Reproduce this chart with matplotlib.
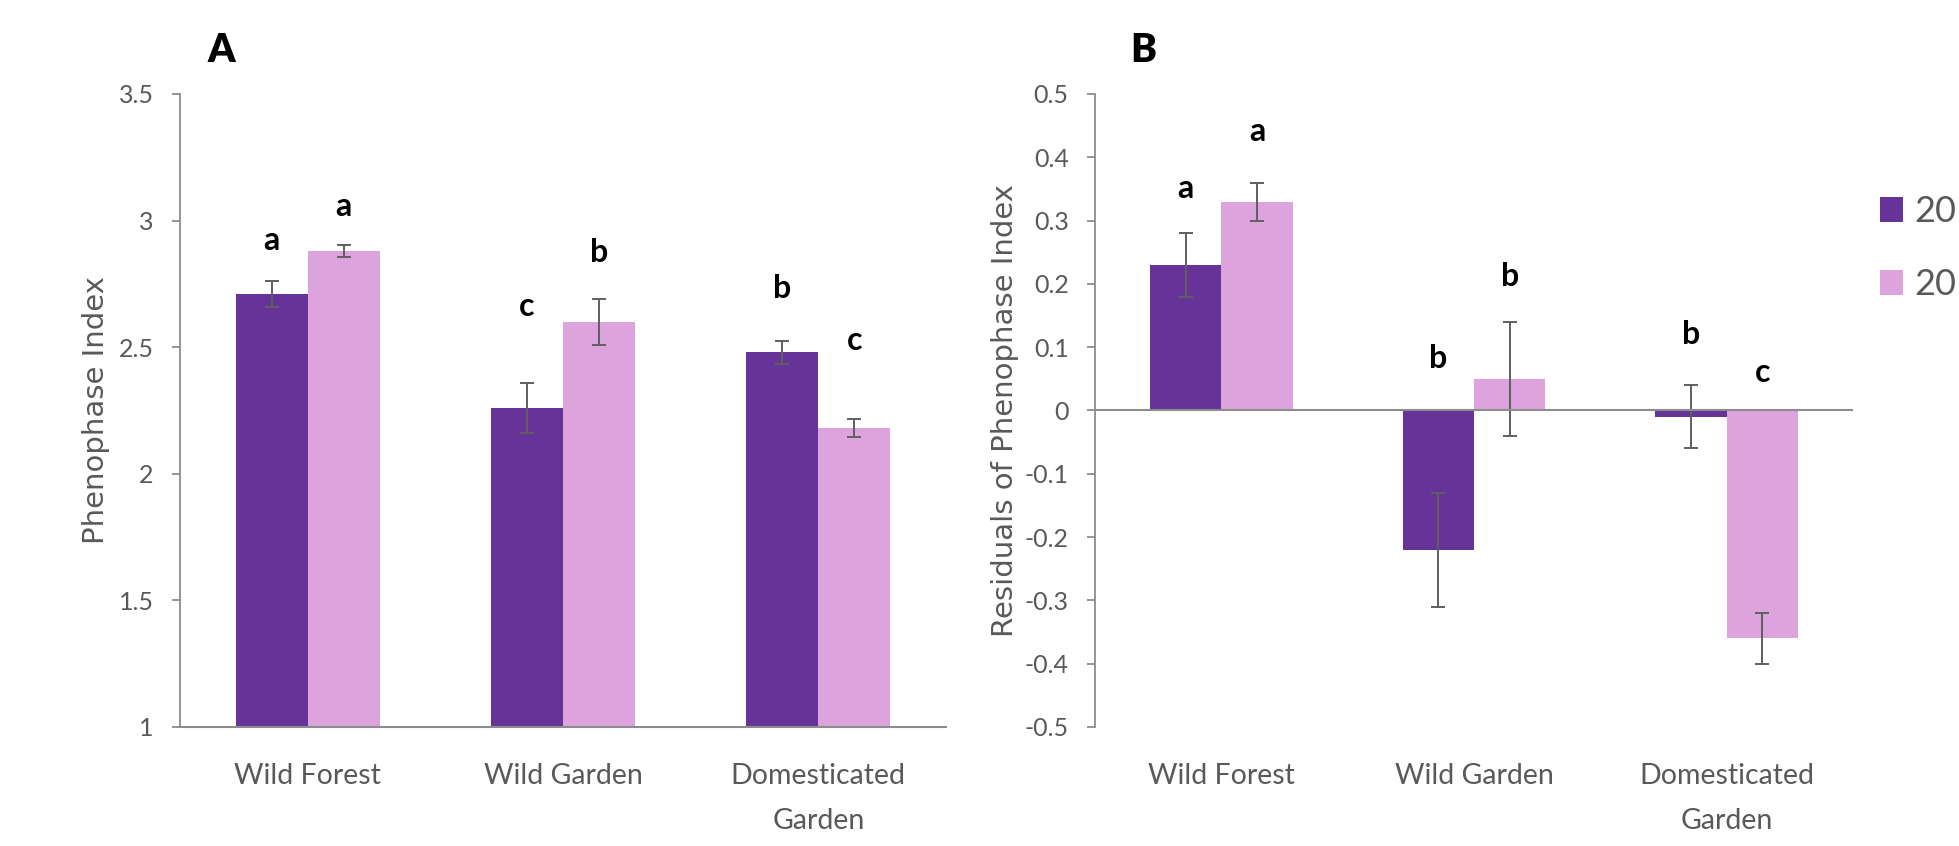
import numpy as np
import matplotlib
matplotlib.use("Agg")
import matplotlib.pyplot as plt
from matplotlib.patches import Patch

# ---------------- data ----------------
categories = ["Wild Forest", "Wild Garden", "Domesticated\nGarden"]
series_labels = ["20", "20"]

a_dark = [2.71, 2.26, 2.48]
a_dark_err = [0.05, 0.10, 0.045]
a_light = [2.88, 2.60, 2.18]
a_light_err = [0.025, 0.09, 0.035]
a_dark_letters = ["a", "c", "b"]
a_light_letters = ["a", "b", "c"]
a_dark_letter_y = [2.92, 2.66, 2.73]
a_light_letter_y = [3.055, 2.875, 2.525]

b_dark = [0.23, -0.22, -0.01]
b_dark_err = [0.05, 0.09, 0.05]
b_light = [0.33, 0.05, -0.36]
b_light_err = [0.03, 0.09, 0.04]
b_dark_letters = ["a", "b", "b"]
b_light_letters = ["a", "b", "c"]
b_dark_letter_y = [0.351, 0.082, 0.12]
b_light_letter_y = [0.44, 0.212, 0.06]

a_ticks = [1, 1.5, 2, 2.5, 3, 3.5]
a_ticklabels = ["1", "1.5", "2", "2.5", "3", "3.5"]
b_ticks = [-0.5, -0.4, -0.3, -0.2, -0.1, 0, 0.1, 0.2, 0.3, 0.4, 0.5]
b_ticklabels = ["-0.5", "-0.4", "-0.3", "-0.2", "-0.1", "0", "0.1", "0.2", "0.3", "0.4", "0.5"]

# ---------------- style ----------------
DARK = "#663399"
LIGHT = "#DDA3DD"
AXIS = "#8c8c8c"
TXT = "#595959"
ERR = "#5f5f5f"
FONT = "Lato"
W = 0.282

fig = plt.figure(figsize=(19.59, 8.46), dpi=100)
axA = fig.add_axes([0.0919, 0.1407, 0.3910, 0.7482])
axB = fig.add_axes([0.5590, 0.1407, 0.3869, 0.7482])

x = np.arange(len(categories))


def draw(ax, dark, derr, light, lerr, dl, ll, dly, lly):
    ax.bar(x - W / 2, dark, W, color=DARK, zorder=2)
    ax.bar(x + W / 2, light, W, color=LIGHT, zorder=2)
    ax.errorbar(x - W / 2, dark, yerr=derr, fmt="none", ecolor=ERR,
                elinewidth=1.4, capsize=5, capthick=1.4, zorder=3)
    ax.errorbar(x + W / 2, light, yerr=lerr, fmt="none", ecolor=ERR,
                elinewidth=1.4, capsize=5, capthick=1.4, zorder=3)
    for i in range(len(x)):
        ax.text(x[i] - W / 2, dly[i], dl[i], ha="center", va="center",
                fontsize=23, fontweight="bold", family=FONT, color="black")
        ax.text(x[i] + W / 2, lly[i], ll[i], ha="center", va="center",
                fontsize=23, fontweight="bold", family=FONT, color="black")
    ax.set_xlim(-0.5, 2.5)
    ax.set_xticks(x)
    ax.set_xticklabels(categories, fontsize=20.5, family=FONT, color=TXT,
                       linespacing=1.9)
    ax.tick_params(axis="x", length=0, pad=26)
    ax.tick_params(axis="y", direction="out", length=6, width=1.3,
                   color=AXIS, pad=13, labelsize=18, labelcolor=TXT)
    for lab in ax.get_yticklabels():
        lab.set_family(FONT)
    for s in ["top", "right"]:
        ax.spines[s].set_visible(False)
    ax.spines["left"].set_color(AXIS)
    ax.spines["left"].set_linewidth(1.3)


# Panel A
draw(axA, a_dark, a_dark_err, a_light, a_light_err, a_dark_letters,
     a_light_letters, a_dark_letter_y, a_light_letter_y)
axA.set_ylim(1, 3.5)
axA.set_yticks(a_ticks)
axA.set_yticklabels(a_ticklabels, family=FONT)
axA.spines["bottom"].set_color(AXIS)
axA.spines["bottom"].set_linewidth(1.5)
axA.set_ylabel("Phenophase Index", fontsize=21, color=TXT,
               family="DejaVu Sans")
axA.yaxis.set_label_coords(-0.092, 0.5)

# Panel B
draw(axB, b_dark, b_dark_err, b_light, b_light_err, b_dark_letters,
     b_light_letters, b_dark_letter_y, b_light_letter_y)
axB.set_ylim(-0.5, 0.5)
axB.set_yticks(b_ticks)
axB.set_yticklabels(b_ticklabels, family=FONT)
axB.spines["bottom"].set_visible(False)
axB.axhline(0, color=AXIS, linewidth=1.5, zorder=4)
axB.set_ylabel("Residuals of Phenophase Index", fontsize=21, color=TXT,
               family="DejaVu Sans")
axB.yaxis.set_label_coords(-0.101, 0.5)

# Panel letters
fig.text(221 / 1959, 1 - 50 / 846, "A", fontsize=28, fontweight="heavy",
         family=FONT, ha="center", va="center")
fig.text(1143 / 1959, 1 - 50 / 846, "B", fontsize=28, fontweight="heavy",
         family=FONT, ha="center", va="center")

# Legend
handles = [Patch(facecolor=DARK, edgecolor="none"),
           Patch(facecolor=LIGHT, edgecolor="none")]
leg = fig.legend(handles, series_labels, loc="upper left",
                 bbox_to_anchor=(1880 / 1959, 1 - 195 / 846),
                 frameon=False, fontsize=26, handlelength=0.65,
                 handleheight=0.7, handletextpad=0.3, labelspacing=1.12,
                 borderpad=0, borderaxespad=0)
for t in leg.get_texts():
    t.set_color(TXT)
    t.set_family(FONT)

fig.savefig("out.png", dpi=100, facecolor="white")
